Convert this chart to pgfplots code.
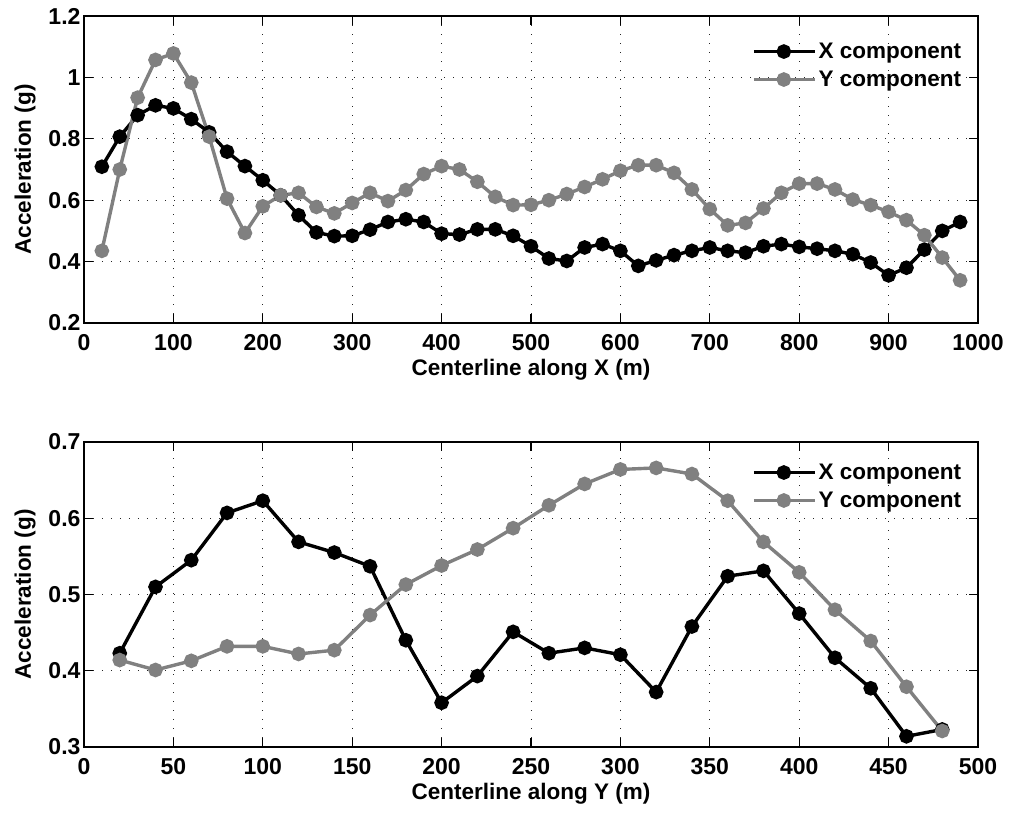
\documentclass[border=0pt]{standalone}
\usepackage{fontspec}
\setmainfont{Liberation Sans}
\usepackage{pgfplots}
\pgfplotsset{compat=1.18}
\definecolor{mgray}{RGB}{128,128,128}
\pgfplotsset{
  mystyle/.style={
    scale only axis,
    width=894pt,
    axis line style={black, line width=1.3pt},
    tick style={black, line width=1.1pt},
    major tick length=9pt,
    tick align=inside,
    grid=major,
    major grid style={black!85, line width=1pt, dash pattern=on 1.2pt off 7.8pt},
    /pgf/number format/assume math mode=true,
    /pgf/number format/1000 sep={},
    ticklabel style={font=\fontsize{23}{27}\selectfont\bfseries},
    xticklabel style={yshift=-8pt},
    label style={font=\fontsize{22.5}{27}\selectfont\bfseries},
    ylabel style={at={(axis description cs:-0.066,0.5)}, anchor=center},
    xlabel style={at={(axis description cs:0.5,0)}, anchor=center, yshift=-47pt},
    legend style={draw=none, fill=none, font=\fontsize{22.5}{27}\selectfont\bfseries,
      anchor=north east, row sep=7pt, inner sep=0pt},
    legend cell align=left,
    legend image code/.code={\draw[mark repeat=2,mark phase=2] plot coordinates {(0pt,0pt)(30pt,0pt)(61pt,0pt)};},
    every axis plot/.append style={line width=3.4pt, mark=*, mark size=5.6pt},
  }
}
\begin{document}
\begin{tikzpicture}
\path[use as bounding box] (0pt,0pt) rectangle (1013pt,814pt);
\begin{axis}[mystyle,
  at={(84pt,491pt)}, anchor=south west,
  height=307pt,
  xmin=0, xmax=1000, ymin=0.2, ymax=1.2,
  xtick={0,100,...,1000}, ytick={0.2,0.4,...,1.2},
  xlabel={Centerline along X (m)}, ylabel={Acceleration (g)},
  legend style={at={(axis description cs:0.9835,0.919)}},
]
\addplot[black, mark options={fill=black}] coordinates {
(20,0.709)(40,0.807)(60,0.877)(80,0.909)(100,0.899)(120,0.864)(140,0.821)(160,0.758)(180,0.711)(200,0.665)
(220,0.616)(240,0.551)(260,0.495)(280,0.483)(300,0.484)(320,0.504)(340,0.529)(360,0.538)(380,0.529)(400,0.491)
(420,0.488)(440,0.505)(460,0.505)(480,0.484)(500,0.450)(520,0.410)(540,0.402)(560,0.446)(580,0.457)(600,0.435)
(620,0.386)(640,0.404)(660,0.421)(680,0.435)(700,0.446)(720,0.435)(740,0.429)(760,0.450)(780,0.457)(800,0.448)
(820,0.442)(840,0.435)(860,0.424)(880,0.397)(900,0.355)(920,0.380)(940,0.439)(960,0.500)(980,0.529)};
\addlegendentry{X component}
\addplot[mgray, mark options={fill=mgray}] coordinates {
(20,0.435)(40,0.700)(60,0.934)(80,1.057)(100,1.078)(120,0.983)(140,0.807)(160,0.605)(180,0.493)(200,0.580)
(220,0.616)(240,0.624)(260,0.578)(280,0.557)(300,0.591)(320,0.624)(340,0.597)(360,0.633)(380,0.685)(400,0.711)
(420,0.700)(440,0.660)(460,0.611)(480,0.584)(500,0.585)(520,0.600)(540,0.620)(560,0.643)(580,0.668)(600,0.696)
(620,0.714)(640,0.714)(660,0.689)(680,0.635)(700,0.571)(720,0.518)(740,0.526)(760,0.573)(780,0.624)(800,0.654)
(820,0.654)(840,0.635)(860,0.602)(880,0.584)(900,0.562)(920,0.535)(940,0.486)(960,0.413)(980,0.339)};
\addlegendentry{Y component}
\end{axis}
\begin{axis}[mystyle,
  at={(84pt,67pt)}, anchor=south west,
  height=305pt,
  xmin=0, xmax=500, ymin=0.3, ymax=0.7,
  xtick={0,50,...,500}, ytick={0.3,0.4,0.5,0.6,0.7},
  xlabel={Centerline along Y (m)}, ylabel={Acceleration (g)},
  legend style={at={(axis description cs:0.9835,0.935)}},
]
\addplot[black, mark options={fill=black}] coordinates {
(20,0.423)(40,0.510)(60,0.545)(80,0.607)(100,0.623)(120,0.569)(140,0.555)(160,0.537)(180,0.440)(200,0.358)
(220,0.393)(240,0.451)(260,0.423)(280,0.430)(300,0.421)(320,0.372)(340,0.458)(360,0.524)(380,0.531)(400,0.475)
(420,0.417)(440,0.377)(460,0.314)(480,0.323)};
\addlegendentry{X component}
\addplot[mgray, mark options={fill=mgray}] coordinates {
(20,0.414)(40,0.401)(60,0.413)(80,0.432)(100,0.432)(120,0.422)(140,0.427)(160,0.473)(180,0.513)(200,0.538)
(220,0.559)(240,0.587)(260,0.617)(280,0.645)(300,0.664)(320,0.666)(340,0.658)(360,0.623)(380,0.569)(400,0.529)
(420,0.480)(440,0.439)(460,0.379)(480,0.321)};
\addlegendentry{Y component}
\end{axis}
\end{tikzpicture}
\end{document}
